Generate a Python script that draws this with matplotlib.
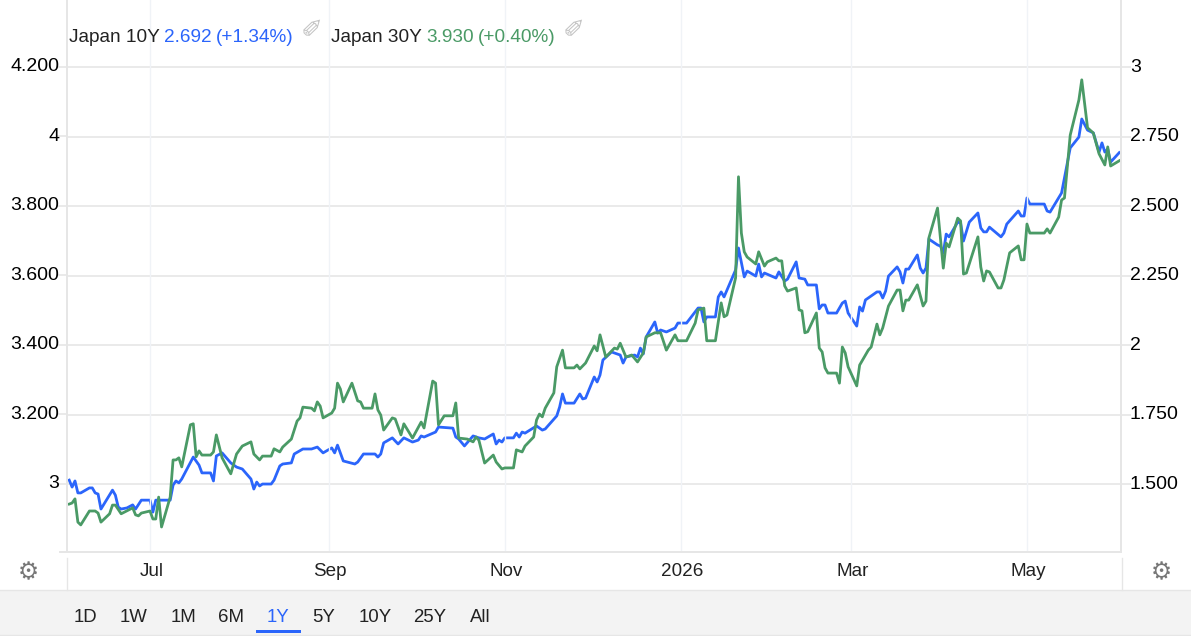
import matplotlib
matplotlib.use("Agg")
import matplotlib.pyplot as plt
import pandas as pd
from matplotlib.patches import Rectangle
from matplotlib.transforms import ScaledTranslation

plt.rcParams['font.family'] = ['Liberation Sans', 'DejaVu Sans']

W, H = 1191, 636
BLUE = "#2b65fb"
GREEN = "#4a9a66"
GRID_H = "#e6e6e6"
GRID_V = "#f0f3f7"
TEXT = "#222222"

# Days counted from 1 Jul 2025
days_10y = [-28, -27, -26, -25, -24, -21, -20, -19, -18, -17, -13, -12, -11, -10, -8, -6, -5, -3, 0, 1,
            2, 7, 8, 9, 10, 11, 15, 17, 18, 21, 22, 23, 25, 28, 30, 32, 35, 36, 37, 38,
            39, 42, 43, 45, 46, 49, 50, 53, 56, 58, 60, 63, 64, 65, 67, 71, 72, 74, 78, 79,
            80, 81, 84, 86, 88, 91, 93, 94, 95, 99, 100, 105, 106, 107, 109, 112, 114, 116, 119, 120,
            121, 122, 123, 126, 127, 128, 129, 130, 134, 136, 137, 141, 142, 143, 144, 147, 149, 150, 151, 154,
            155, 156, 157, 160, 163, 164, 165, 168, 169, 170, 171, 172, 175, 176, 177, 179, 182, 183, 186, 190,
            191, 192, 193, 196, 197, 198, 199, 203, 204, 206, 207, 210, 211, 212, 213, 217, 218, 220, 221, 224,
            225, 227, 228, 231, 232, 233, 234, 235, 238, 240, 241, 242, 245, 246, 247, 248, 252, 253, 254, 255,
            256, 259, 260, 261, 262, 263, 266, 267, 268, 269, 270, 273, 274, 275, 276, 277, 280, 281, 282, 284,
            287, 288, 289, 290, 291, 295, 296, 297, 301, 302, 303, 304, 305, 310, 311, 312, 316, 318, 319, 322,
            323, 325, 327, 329, 330, 331, 332, 333, 336]
yield_10y = [1.514, 1.489, 1.511, 1.468, 1.468, 1.486, 1.486, 1.468, 1.464, 1.410, 1.478, 1.460, 1.417, 1.410, 1.414, 1.425, 1.410, 1.442, 1.442, 1.399,
             1.442, 1.442, 1.496, 1.511, 1.504, 1.518, 1.597, 1.568, 1.540, 1.540, 1.511, 1.601, 1.612, 1.576, 1.561, 1.554, 1.518, 1.482, 1.507, 1.493,
             1.500, 1.500, 1.514, 1.565, 1.572, 1.576, 1.608, 1.626, 1.626, 1.633, 1.612, 1.630, 1.612, 1.640, 1.583, 1.572, 1.579, 1.608, 1.608, 1.597,
             1.608, 1.648, 1.666, 1.644, 1.666, 1.651, 1.658, 1.673, 1.669, 1.687, 1.705, 1.701, 1.669, 1.662, 1.637, 1.673, 1.666, 1.662, 1.680, 1.644,
             1.658, 1.651, 1.666, 1.666, 1.683, 1.669, 1.687, 1.683, 1.709, 1.694, 1.698, 1.745, 1.777, 1.824, 1.791, 1.791, 1.824, 1.806, 1.809, 1.885,
             1.867, 1.892, 1.946, 1.975, 1.964, 1.935, 1.957, 1.964, 1.957, 1.989, 1.968, 2.029, 2.083, 2.043, 2.054, 2.047, 2.061, 2.079, 2.079, 2.133,
             2.133, 2.083, 2.101, 2.101, 2.173, 2.191, 2.173, 2.270, 2.349, 2.245, 2.266, 2.248, 2.291, 2.245, 2.259, 2.241, 2.263, 2.230, 2.237, 2.299,
             2.241, 2.237, 2.216, 2.216, 2.130, 2.144, 2.144, 2.115, 2.115, 2.151, 2.158, 2.115, 2.068, 2.137, 2.122, 2.162, 2.191, 2.191, 2.169, 2.194,
             2.248, 2.281, 2.263, 2.223, 2.273, 2.273, 2.324, 2.277, 2.259, 2.277, 2.381, 2.360, 2.356, 2.331, 2.399, 2.389, 2.442, 2.439, 2.374, 2.442,
             2.475, 2.421, 2.407, 2.407, 2.424, 2.389, 2.403, 2.435, 2.482, 2.464, 2.464, 2.529, 2.507, 2.507, 2.482, 2.478, 2.547, 2.655, 2.709, 2.748,
             2.813, 2.773, 2.763, 2.694, 2.727, 2.694, 2.705, 2.658, 2.692]

days_30y = [-28, -27, -26, -25, -24, -21, -19, -18, -17, -14, -13, -12, -10, -6, -5, -4, -3, 0, 1, 2,
            3, 4, 7, 8, 9, 10, 11, 14, 15, 16, 17, 18, 21, 22, 23, 25, 28, 30, 32, 35,
            36, 38, 39, 42, 43, 45, 46, 49, 51, 52, 53, 56, 57, 58, 59, 60, 63, 64, 65, 66,
            67, 70, 72, 73, 74, 77, 78, 79, 80, 81, 84, 85, 87, 88, 91, 94, 95, 98, 99, 100,
            102, 105, 106, 107, 110, 112, 113, 114, 116, 119, 120, 122, 123, 126, 127, 129, 130, 133, 134, 135,
            136, 137, 140, 141, 143, 144, 147, 148, 149, 151, 154, 155, 156, 158, 161, 162, 163, 165, 167, 169,
            171, 172, 175, 177, 179, 182, 183, 186, 189, 190, 192, 193, 196, 198, 199, 200, 203, 204, 205, 206,
            207, 210, 211, 213, 214, 217, 218, 219, 220, 221, 224, 225, 226, 227, 228, 231, 232, 233, 234, 235,
            238, 239, 240, 241, 242, 245, 246, 249, 250, 252, 253, 254, 256, 259, 260, 261, 262, 263, 266, 268,
            269, 270, 273, 275, 276, 277, 280, 281, 282, 283, 287, 288, 289, 290, 291, 294, 295, 296, 298, 301,
            302, 303, 304, 305, 310, 311, 312, 315, 316, 317, 319, 322, 323, 325, 327, 329, 331, 332, 333, 336]
yield_30y = [2.942, 2.945, 2.957, 2.890, 2.882, 2.922, 2.922, 2.916, 2.890, 2.914, 2.939, 2.939, 2.914, 2.931, 2.911, 2.908, 2.916, 2.922, 2.899, 2.899,
             2.962, 2.876, 2.962, 3.069, 3.069, 3.075, 3.049, 3.170, 3.173, 3.078, 3.095, 3.083, 3.083, 3.092, 3.141, 3.075, 3.029, 3.086, 3.109, 3.121,
             3.086, 3.069, 3.080, 3.080, 3.101, 3.092, 3.106, 3.129, 3.181, 3.190, 3.221, 3.218, 3.210, 3.236, 3.224, 3.190, 3.204, 3.218, 3.290, 3.273,
             3.236, 3.290, 3.239, 3.236, 3.218, 3.218, 3.259, 3.213, 3.198, 3.155, 3.190, 3.187, 3.141, 3.173, 3.132, 3.178, 3.161, 3.296, 3.290, 3.170,
             3.196, 3.196, 3.233, 3.132, 3.129, 3.121, 3.135, 3.126, 3.060, 3.083, 3.063, 3.043, 3.046, 3.046, 3.098, 3.092, 3.109, 3.135, 3.184, 3.201,
             3.193, 3.218, 3.262, 3.337, 3.385, 3.334, 3.334, 3.342, 3.331, 3.348, 3.397, 3.383, 3.429, 3.365, 3.391, 3.388, 3.405, 3.365, 3.371, 3.351,
             3.377, 3.423, 3.435, 3.435, 3.385, 3.429, 3.412, 3.412, 3.463, 3.501, 3.506, 3.412, 3.412, 3.521, 3.481, 3.486, 3.593, 3.884, 3.722, 3.668,
             3.653, 3.633, 3.668, 3.627, 3.639, 3.650, 3.642, 3.642, 3.570, 3.555, 3.564, 3.501, 3.498, 3.435, 3.438, 3.492, 3.391, 3.380, 3.334, 3.319,
             3.319, 3.290, 3.394, 3.377, 3.337, 3.282, 3.342, 3.385, 3.394, 3.460, 3.429, 3.449, 3.512, 3.558, 3.558, 3.498, 3.529, 3.529, 3.573, 3.512,
             3.526, 3.708, 3.794, 3.621, 3.693, 3.682, 3.765, 3.757, 3.604, 3.607, 3.711, 3.624, 3.584, 3.613, 3.610, 3.564, 3.564, 3.587, 3.665, 3.685,
             3.645, 3.645, 3.748, 3.722, 3.722, 3.734, 3.722, 3.768, 3.817, 3.823, 4.004, 4.105, 4.163, 4.025, 4.010, 3.950, 3.918, 3.970, 3.915, 3.930]

left_ticks = [3.0, 3.2, 3.4, 3.6, 3.8, 4.0, 4.2]
left_labels = ["3", "3.200", "3.400", "3.600", "3.800", "4", "4.200"]
right_ticks = [1.5, 1.75, 2.0, 2.25, 2.5, 2.75, 3.0]
right_labels = ["1.500", "1.750", "2", "2.250", "2.500", "2.750", "3"]
month_dates = ["2025-07-01", "2025-09-01", "2025-11-01", "2026-01-01", "2026-03-01", "2026-05-01"]
month_labels = ["Jul", "Sep", "Nov", "2026", "Mar", "May"]
ranges = ["1D", "1W", "1M", "6M", "1Y", "5Y", "10Y", "25Y", "All"]
range_x = [85, 134, 183, 231, 278, 324, 375, 430, 480]

start = pd.Timestamp("2025-07-01")
dates_10y = start + pd.to_timedelta(days_10y, unit="D")
dates_30y = start + pd.to_timedelta(days_30y, unit="D")

fig = plt.figure(figsize=(W / 100, H / 100), dpi=100, facecolor="white")

# overlay in pixel coordinates for the toolbar and header
chrome = fig.add_axes([0, 0, 1, 1], zorder=5)
chrome.set_xlim(0, W)
chrome.set_ylim(H, 0)
chrome.axis("off")
chrome.patch.set_alpha(0)

ax = fig.add_axes([67 / W, 1 - 552 / H, (1121 - 67) / W, 552 / H], zorder=2)
ax2 = ax.twinx()
ax2.set_zorder(1)
ax.patch.set_visible(False)

ax2.plot(dates_10y, yield_10y, color=BLUE, lw=2.0, solid_joinstyle="round")
ax.plot(dates_30y, yield_30y, color=GREEN, lw=2.0, solid_joinstyle="round")

x0 = start + pd.Timedelta(days=-28.77)
x1 = start + pd.Timedelta(days=336.6)
ax.set_xlim(x0, x1)
ax.set_ylim(2.804, 4.3928)
ax2.set_ylim(1.2555, 3.241)

ax.set_yticks(left_ticks)
ax.set_yticklabels(left_labels)
ax2.set_yticks(right_ticks)
ax2.set_yticklabels(right_labels)
ax.set_xticks(pd.to_datetime(month_dates))
ax.set_xticklabels(month_labels)

ax.tick_params(axis="y", length=7, width=1.2, color=GRID_H, labelsize=14, labelcolor="black", pad=-1.3)
ax2.tick_params(axis="y", length=7, width=1.2, color=GRID_H, labelsize=14, labelcolor="black", pad=-0.6)
ax.tick_params(axis="x", length=0, labelsize=13.6, labelcolor=TEXT, pad=8)

# y labels sit a little above their gridlines, x labels a little right of theirs
nudge_y = ScaledTranslation(0, 2 / 100, fig.dpi_scale_trans)
nudge_x = ScaledTranslation(1.5 / 100, 0, fig.dpi_scale_trans)
for lab in ax.get_yticklabels() + ax2.get_yticklabels():
    lab.set_transform(lab.get_transform() + nudge_y)
for lab in ax.get_xticklabels():
    lab.set_transform(lab.get_transform() + nudge_x)

# gridlines sit on the back axes so the lines stay on top
ax2.set_axisbelow(True)
ax2.grid(axis="y", color=GRID_H, lw=1.2)
for d in month_dates:
    ax2.axvline(pd.Timestamp(d), color=GRID_V, lw=1)

for a in (ax, ax2):
    a.spines["top"].set_visible(False)
    for side in ("left", "right", "bottom"):
        a.spines[side].set_color(GRID_H)
        a.spines[side].set_linewidth(1.4)

# white strip behind the header
ax2.add_artist(Rectangle((1 / 1054, 1 - 59 / 552), 522 / 1054, 40 / 552, transform=ax2.transAxes,
                         facecolor="white", edgecolor="none", zorder=1.5))

header = [(69, "Japan 10Y", TEXT), (164, "2.692", BLUE), (216, "(+1.34%)", BLUE),
          (331, "Japan 30Y", TEXT), (426, "3.930", GREEN), (478, "(+0.40%)", GREEN)]
for x, s, c in header:
    chrome.text(x, 38, s, color=c, fontsize=13.7, va="center", ha="left")
for x in (312, 574):
    chrome.text(x, 31, "\u2710", color="#c4c4c4", fontsize=19, va="center", ha="center", family="DejaVu Sans")

# dividers beside the time labels and settings icons
chrome.plot([67, 67], [558, 590], color=GRID_H, lw=1)
chrome.plot([1122, 1122], [558, 590], color=GRID_H, lw=1)
chrome.plot([60, 67], [552, 552], color=GRID_H, lw=1.4)
for x in (28, 1161):
    chrome.text(x, 572, "\u2699", color="#777777", fontsize=17, va="center", ha="center", family="DejaVu Sans")

# range selector bar
chrome.add_patch(Rectangle((0, 590), W, 46, facecolor="#f3f3f3", edgecolor="none"))
chrome.plot([0, W], [590, 590], color=GRID_H, lw=1)
chrome.plot([0, W], [634.5, 634.5], color=GRID_H, lw=1)
for x, s in zip(range_x, ranges):
    chrome.text(x, 617, s, color=BLUE if s == "1Y" else TEXT, fontsize=13.4, va="center", ha="center")
chrome.add_patch(Rectangle((256, 630), 45, 2.5, facecolor=BLUE, edgecolor="none"))

fig.savefig("out.png", dpi=100)
